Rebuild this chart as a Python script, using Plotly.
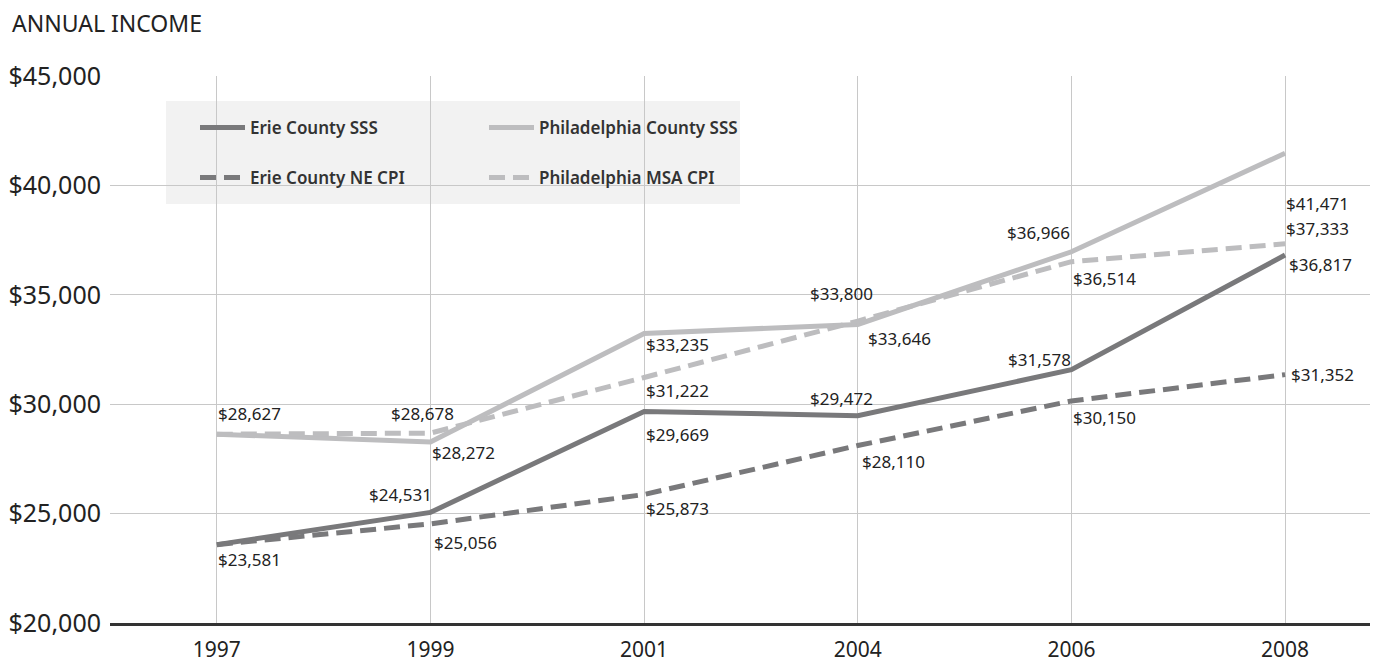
import plotly.graph_objects as go

years = ["1997", "1999", "2001", "2004", "2006", "2008"]
erie_sss = [23581, 25056, 29669, 29472, 31578, 36817]
erie_cpi = [23581, 24531, 25873, 28110, 30150, 31352]
phila_sss = [28627, 28272, 33235, 33646, 36966, 41471]
phila_cpi = [28627, 28678, 31222, 33800, 36514, 37333]
y_ticks = [20000, 25000, 30000, 35000, 40000, 45000]

# label offsets (pixels) per point: (dx, dy); None = no label
erie_sss_off = [(33, -15), (35, -30), (33, -23), (-16, 17), (-32, 10), (35, -9)]
erie_cpi_off = [None, (-30, 29), (33, -14), (36, -16), (33, -17), (37, 0)]
phila_sss_off = [(33, 21), (33, -10), (33, -11), (42, -14), (-33, 19), (32, -50)]
phila_cpi_off = [None, (-8, 20), (33, -13), (-16, 28), (33, -17), (32, 15)]

DARK = "#79797b"
LIGHT = "#bdbdbf"
FONT = "Noto Sans"

# page has an 8px body margin; figure is sized to fill the 1378x666 window
W, H = 1370, 658
ML, MT, MB = 102, 68, 43
PW = W - ML
PH = H - MT - MB

fig = go.Figure()
series = [
    ("Erie County SSS", erie_sss, DARK, "solid", "legend"),
    ("Philadelphia County SSS", phila_sss, LIGHT, "solid", "legend"),
    ("Erie County NE CPI", erie_cpi, DARK, "16px,8px", "legend2"),
    ("Philadelphia MSA CPI", phila_cpi, LIGHT, "16px,8px", "legend2"),
]
for name, vals, col, dash, leg in series:
    fig.add_trace(go.Scatter(
        x=years, y=vals, mode="lines", name=name,
        line=dict(color=col, width=5, dash=dash),
        legend=leg, hoverinfo="skip",
    ))

for vals, offs in [(erie_sss, erie_sss_off), (erie_cpi, erie_cpi_off),
                   (phila_sss, phila_sss_off), (phila_cpi, phila_cpi_off)]:
    for i, (v, o) in enumerate(zip(vals, offs)):
        if o is None:
            continue
        fig.add_annotation(
            x=i, y=v, text=f"${v:,}", showarrow=False,
            xanchor="center", yanchor="middle", xshift=o[0], yshift=o[1],
            font=dict(family=FONT, size=17, color="#222222"),
        )

# chart title (page px -> paper)
fig.add_annotation(
    xref="paper", yref="paper", x=(10 - 110) / PW, y=(623 - 23) / PH,
    xanchor="left", yanchor="middle", text="ANNUAL INCOME", showarrow=False,
    font=dict(family=FONT, size=23, color="#222222"),
)

# legend background
fig.add_shape(type="rect", xref="paper", yref="paper",
              x0=(166 - 110) / PW, x1=(740 - 110) / PW,
              y0=(623 - 204) / PH, y1=(623 - 101) / PH,
              fillcolor="#f2f2f2", line=dict(width=0), layer="between")
# gap in $25,000 gridline
fig.add_shape(type="line", xref="paper", yref="y",
              x0=(798 - 110) / PW, x1=1, y0=25000, y1=25000,
              line=dict(color="white", width=2), layer="between")

legend_common = dict(
    orientation="h", bgcolor="rgba(0,0,0,0)", itemwidth=45,
    entrywidth=229, entrywidthmode="pixels",
    font=dict(family=FONT, size=17, color="#333333", weight=600),
    xanchor="left", yanchor="middle", itemclick=False, itemdoubleclick=False,
)

fig.update_layout(
    width=W, height=H,
    margin=dict(l=ML, r=0, t=MT, b=MB, autoexpand=False),
    paper_bgcolor="white", plot_bgcolor="white",
    legend=dict(x=(195 - 110) / PW, y=(623 - 128) / PH, **legend_common),
    legend2=dict(x=(195 - 110) / PW, y=(623 - 178) / PH, **legend_common),
    xaxis=dict(type="category", range=[-0.5, 5.435], showgrid=True,
               gridcolor="#c8c8c8", gridwidth=1, showline=True,
               linecolor="#333333", linewidth=3, ticks="",
               ticklabelstandoff=6, automargin=False,
               tickfont=dict(family=FONT, size=21, color="#222222"),
               fixedrange=True),
    yaxis=dict(range=[20000, 45000], tickvals=y_ticks,
               ticktext=[f"${v:,}" for v in y_ticks],
               showgrid=True, gridcolor="#c8c8c8", gridwidth=1,
               zeroline=False, showline=False, ticks="", ticklabelstandoff=8,
               automargin=False,
               tickfont=dict(family=FONT, size=25, color="#222222"),
               fixedrange=True),
    showlegend=True,
)

fig.write_html("out.html")
